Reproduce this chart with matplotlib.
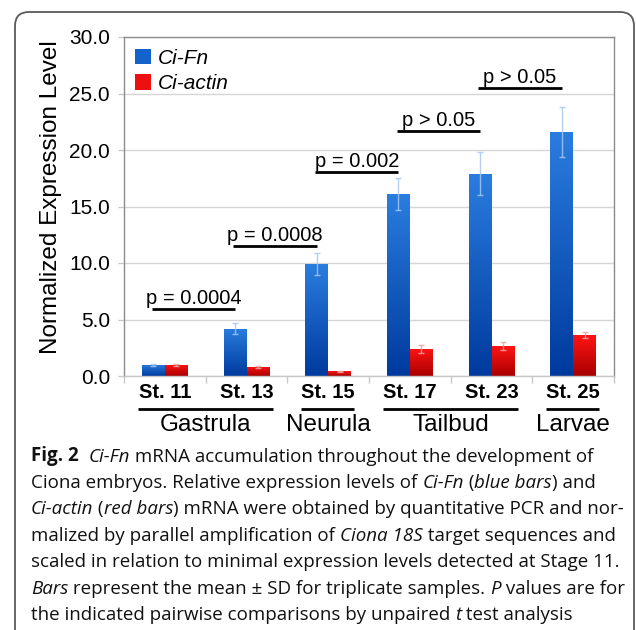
import matplotlib
matplotlib.use("Agg")
import matplotlib.pyplot as plt
import matplotlib.transforms as mtransforms
from matplotlib.patches import FancyBboxPatch
from matplotlib.colors import LinearSegmentedColormap
from matplotlib.font_manager import FontProperties
import numpy as np

# ---------------------------------------------------------------------------
#   data
# ---------------------------------------------------------------------------
stages = ["St. 11", "St. 13", "St. 15", "St. 17", "St. 23", "St. 25"]
fn_mean = [1.0, 4.2, 9.9, 16.1, 17.9, 21.6]
fn_sd = [0.1, 0.5, 1.0, 1.4, 1.9, 2.2]
actin_mean = [1.0, 0.8, 0.4, 2.4, 2.65, 3.6]
actin_sd = [0.1, 0.1, 0.05, 0.35, 0.35, 0.25]

groups = ["Gastrula", "Neurula", "Tailbud", "Larvae"]
group_first = [0, 2, 3, 5]
group_last = [1, 2, 4, 5]

p_labels = ["p = 0.0004", "p = 0.0008", "p = 0.002", "p > 0.05", "p > 0.05"]
p_from = [0, 1, 2, 3, 4]
p_level = [5.93, 11.5, 18.05, 21.7, 25.5]

caption = [
    [("Fig. 2", "bold"), ("  ", "normal"), ("Ci-Fn", "italic"),
     (" mRNA accumulation throughout the development of", "normal")],
    [("Ciona embryos. Relative expression levels of ", "normal"), ("Ci-Fn", "italic"),
     (" (", "normal"), ("blue bars", "italic"), (") and", "normal")],
    [("Ci-actin", "italic"), (" (", "normal"), ("red bars", "italic"),
     (") mRNA were obtained by quantitative PCR and nor-", "normal")],
    [("malized by parallel amplification of ", "normal"), ("Ciona 18S", "italic"),
     (" target sequences and", "normal")],
    [("scaled in relation to minimal expression levels detected at Stage 11.", "normal")],
    [("Bars", "italic"), (" represent the mean \u00b1 SD for triplicate samples. ", "normal"),
     ("P", "italic"), (" values are for", "normal")],
    [("the indicated pairwise comparisons by unpaired ", "normal"), ("t", "italic"),
     (" test analysis", "normal")],
]

W, H = 636, 630
plt.rcParams['font.family'] = ['Liberation Sans', 'DejaVu Sans']

fig = plt.figure(figsize=(W / 100, H / 100), dpi=100)
fig.patch.set_facecolor('white')

# outer rounded frame
frame = FancyBboxPatch((15, -20), 619, 638, boxstyle="round,pad=0,rounding_size=14",
                       transform=mtransforms.IdentityTransform(), facecolor='none',
                       edgecolor='#5a5a5a', linewidth=1.3)
fig.add_artist(frame)

ax = fig.add_axes([124 / W, 1 - 376 / H, 490 / W, 339 / H])

x = np.arange(len(stages))
bw = 0.28
blue_cmap = LinearSegmentedColormap.from_list('b', ['#003a9e', '#2a7ddf'])
red_cmap = LinearSegmentedColormap.from_list('r', ['#a80000', '#ff1414'])

b1 = ax.bar(x - bw / 2, fn_mean, bw, color='#1462cc', label='Ci-Fn', zorder=2)
b2 = ax.bar(x + bw / 2, actin_mean, bw, color='#ee1010', label='Ci-actin', zorder=2)

grad = np.linspace(0, 1, 100).reshape(-1, 1)
for bars, cmap in [(b1, blue_cmap), (b2, red_cmap)]:
    for p in bars:
        x0, y0 = p.get_x(), p.get_y()
        im = ax.imshow(grad, extent=[x0, x0 + p.get_width(), y0, y0 + p.get_height()],
                       origin='lower', aspect='auto', cmap=cmap, zorder=2.1)
        im.set_clip_path(p)

ax.errorbar(x - bw / 2, fn_mean, yerr=fn_sd, fmt='none', ecolor='#a6c8f2',
            elinewidth=1, capsize=2.5, capthick=1, zorder=3, alpha=0.85)
ax.errorbar(x + bw / 2, actin_mean, yerr=actin_sd, fmt='none', ecolor='#f2a0a0',
            elinewidth=1, capsize=2.5, capthick=1, zorder=3, alpha=0.85)

ax.set_xlim(-0.5, len(stages) - 0.5)
ax.set_ylim(0, 30)
ax.set_yticks(np.arange(0, 31, 5))
ax.set_yticklabels(["%.1f" % v for v in np.arange(0, 31, 5)], fontsize=15)
ax.set_xticks(x)
ax.set_xticklabels(stages, fontsize=14.5, fontweight='bold')
ax.set_xticks(np.arange(-0.5, len(stages)), minor=True)
ax.tick_params(axis='x', which='major', length=0, pad=5)
ax.tick_params(axis='x', which='minor', length=5, color='#c8c8c8', width=1)
ax.tick_params(axis='y', length=4, color='#c8c8c8', width=1, pad=6)
ax.grid(axis='y', color='#d6d6d6', linewidth=1, zorder=0)
ax.set_axisbelow(True)
for s in ax.spines.values():
    s.set_color('#8c8c8c')
    s.set_linewidth(1)
ax.spines['bottom'].set_color('#c8c8c8')

ax.set_ylabel("Normalized Expression Level", fontsize=17.5)
ax.yaxis.set_label_coords(-0.127, 0.527)

ax.legend(loc='upper left', frameon=False, bbox_to_anchor=(0.022, 0.966),
          borderaxespad=0, borderpad=0, handlelength=0.8, handleheight=0.8,
          handletextpad=0.3, labelspacing=0.3,
          prop=FontProperties(family='Liberation Sans', style='italic', size=15))

# p value underlines
for lab, i, lev in zip(p_labels, p_from, p_level):
    ax.plot([i - 0.16, i + 0.86], [lev, lev], color='black', lw=2,
            solid_capstyle='butt', zorder=4)
    ax.text(i + 0.35, lev + 0.45, lab, ha='center', va='baseline', fontsize=14.5,
            zorder=4)

# developmental groups under the stage labels
trans = mtransforms.blended_transform_factory(ax.transData, ax.transAxes)
for g, a, b in zip(groups, group_first, group_last):
    ax.plot([a - 0.33, b + 0.32], [-0.0973, -0.0973], color='black', lw=2,
            transform=trans, clip_on=False, solid_capstyle='butt')
    ax.text((a + b) / 2, -0.1445, g, ha='center', va='center', fontsize=17.5,
            transform=trans)

# caption with mixed roman / italic / bold runs
fig.canvas.draw()
renderer = fig.canvas.get_renderer()
styles = {
    "normal": dict(family='Open Sans', style='normal', weight='normal'),
    "italic": dict(family='Open Sans', style='italic', weight='normal'),
    "bold": dict(family='Open Sans', style='normal', weight='bold'),
}


def run_width(s, prop):
    w1 = renderer.get_text_width_height_descent("x" + s + "x", prop, ismath=False)[0]
    w0 = renderer.get_text_width_height_descent("xx", prop, ismath=False)[0]
    return w1 - w0


def line_width(line, size):
    return sum(run_width(t, FontProperties(size=size, **styles[st])) for t, st in line)


size = 10.0
size = size * 563.0 / line_width(caption[0], size)

x_left = 31
base0 = 461.5
step = 26.4
for k, line in enumerate(caption):
    xp = x_left
    yb = base0 + k * step
    for t, st in line:
        prop = FontProperties(size=size, **styles[st])
        fig.text(xp / W, 1 - yb / H, t, fontproperties=prop, ha='left',
                 va='baseline', color='#111111')
        xp += run_width(t, prop)

fig.savefig("out.png", dpi=100)
